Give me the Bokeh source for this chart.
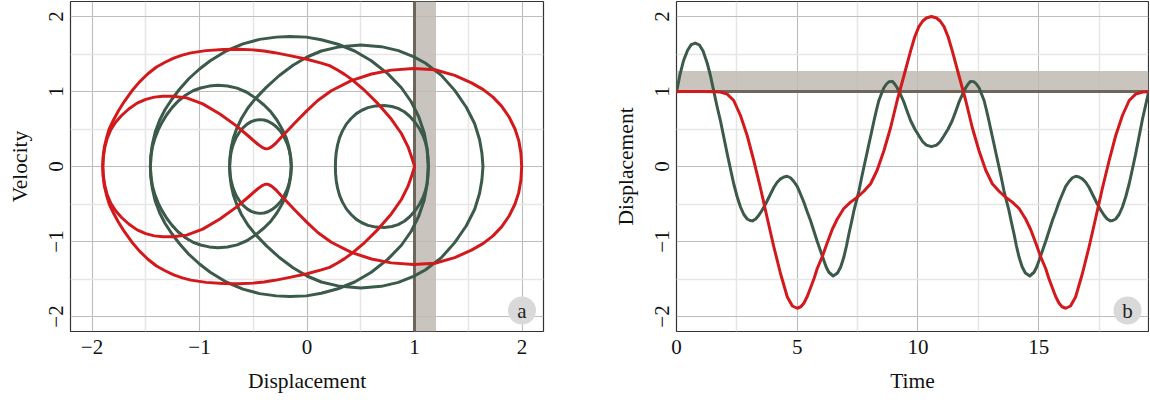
from bokeh.plotting import figure
from bokeh.layouts import row
from bokeh.models import Range1d, FixedTicker, BoxAnnotation, Span
from bokeh.core.properties import value
from bokeh.embed import file_html
from bokeh.resources import INLINE

# ---------------- data ----------------
phase_ticks = [-2, -1, 0, 1, 2]
phase_tick_labels = ["\u22122", "\u22121", "0", "1", "2"]
phase_minor = [-1.5, -0.5, 0.5, 1.5]
time_ticks = [0, 5, 10, 15]
time_tick_labels = ["0", "5", "10", "15"]
time_minor = [2.5, 7.5, 12.5, 17.5]
panel_labels = ["a", "b"]
marker_value = 1.0
band_x = [1.0, 1.2]
band_y = [1.0, 1.275]

# red phase curve: outer loop
red_outer_lo_x = [1.000, 0.995, 0.977, 0.940, 0.878, 0.784, 0.660, 0.536, 0.412, 0.350, 0.288, 0.210, 0.133, 0.000,
                  -0.160, -0.300, -0.400, -0.500, -0.630, -0.780, -0.940, -1.080, -1.160, -1.240, -1.320,
                  -1.400, -1.480, -1.560, -1.630, -1.700, -1.755, -1.800, -1.840, -1.865, -1.885, -1.896, -1.900]
red_outer_lo_y = [0.000, -0.030, -0.110, -0.262, -0.440, -0.633, -0.838, -1.014, -1.165, -1.228, -1.283, -1.345,
                  -1.379, -1.430, -1.478, -1.518, -1.540, -1.555, -1.563, -1.560, -1.545, -1.515, -1.485, -1.445,
                  -1.390, -1.327, -1.237, -1.125, -1.006, -0.866, -0.739, -0.620, -0.500, -0.380, -0.260, -0.130,
                  0.000]
red_outer_up_x = [-1.900, -1.896, -1.885, -1.865, -1.840, -1.800, -1.755, -1.700, -1.630, -1.560, -1.480, -1.400,
                  -1.320, -1.240, -1.160, -1.080, -0.940, -0.780, -0.630, -0.500, -0.400, -0.300, -0.160, 0.000,
                  0.133, 0.210, 0.288, 0.350, 0.412, 0.536, 0.660, 0.784, 0.878, 0.940, 0.977, 0.995, 1.000]
red_outer_up_y = [0.000, 0.130, 0.260, 0.380, 0.500, 0.620, 0.739, 0.866, 1.006, 1.125, 1.237, 1.327,
                  1.390, 1.445, 1.485, 1.515, 1.545, 1.560, 1.563, 1.555, 1.540, 1.518, 1.478, 1.430,
                  1.379, 1.345, 1.283, 1.228, 1.165, 1.014, 0.838, 0.633, 0.440, 0.262, 0.110, 0.030, 0.000]

# red phase curve: inner loop, neck and right loop
red_inner_up_x = [-1.900, -1.895, -1.882, -1.860, -1.825, -1.780, -1.725, -1.655, -1.580, -1.500, -1.420, -1.340,
                  -1.250, -1.120, -0.970, -0.810, -0.660, -0.540, -0.460, -0.420, -0.395, -0.375, -0.355, -0.330,
                  -0.290, -0.220, -0.100, 0.000, 0.100, 0.226, 0.412, 0.600, 0.784, 0.990, 1.190, 1.374, 1.530,
                  1.640, 1.730, 1.810, 1.880, 1.935, 1.970, 1.990, 1.997]
red_inner_up_y = [0.000, 0.120, 0.250, 0.370, 0.490, 0.590, 0.680, 0.770, 0.845, 0.895, 0.925, 0.937,
                  0.937, 0.915, 0.835, 0.700, 0.545, 0.400, 0.300, 0.258, 0.240, 0.235, 0.242, 0.262,
                  0.310, 0.420, 0.600, 0.745, 0.880, 1.010, 1.145, 1.233, 1.285, 1.308, 1.290, 1.215, 1.115,
                  1.025, 0.925, 0.805, 0.660, 0.500, 0.345, 0.180, 0.000]
red_inner_lo_x = [1.997, 1.990, 1.970, 1.935, 1.880, 1.810, 1.730, 1.640, 1.530, 1.374, 1.190, 0.990, 0.784,
                  0.600, 0.412, 0.226, 0.100, 0.000, -0.100, -0.220, -0.290, -0.330, -0.355, -0.375, -0.395,
                  -0.420, -0.460, -0.540, -0.660, -0.810, -0.970, -1.120, -1.250, -1.340, -1.420, -1.500,
                  -1.580, -1.655, -1.725, -1.780, -1.825, -1.860, -1.882, -1.895, -1.900]
red_inner_lo_y = [0.000, -0.180, -0.345, -0.500, -0.660, -0.805, -0.925, -1.025, -1.115, -1.215, -1.290, -1.308,
                  -1.285, -1.233, -1.145, -1.010, -0.880, -0.745, -0.600, -0.420, -0.310, -0.262, -0.242,
                  -0.235, -0.240, -0.258, -0.300, -0.400, -0.545, -0.700, -0.835, -0.915, -0.937, -0.937,
                  -0.925, -0.895, -0.845, -0.770, -0.680, -0.590, -0.490, -0.370, -0.250, -0.120, 0.000]

# green phase loops (upper half left->right, lower half right->left)
gA_up_x = [-1.457, -1.452, -1.438, -1.412, -1.370, -1.320, -1.260, -1.186, -1.100, -1.000, -0.900, -0.752, -0.596,
           -0.441, -0.286, -0.161, -0.006, 0.133, 0.288, 0.443, 0.598, 0.753, 0.878, 0.971, 1.040, 1.090, 1.117, 1.128]
gA_up_y = [0.000, 0.150, 0.300, 0.460, 0.620, 0.760, 0.890, 1.030, 1.170, 1.300, 1.410, 1.540, 1.635,
           1.695, 1.725, 1.734, 1.725, 1.690, 1.630, 1.540, 1.410, 1.235, 1.050, 0.860, 0.660, 0.450, 0.240, 0.000]
gA_lo_x = [1.128, 1.117, 1.090, 1.040, 0.971, 0.878, 0.753, 0.598, 0.443, 0.288, 0.133, -0.006, -0.161, -0.286,
           -0.441, -0.596, -0.752, -0.900, -1.000, -1.100, -1.186, -1.260, -1.320, -1.370, -1.412, -1.438, -1.452, -1.457]
gA_lo_y = [0.000, -0.240, -0.450, -0.660, -0.860, -1.050, -1.235, -1.410, -1.540, -1.630, -1.690, -1.725, -1.734,
           -1.725, -1.695, -1.635, -1.540, -1.410, -1.300, -1.170, -1.030, -0.890, -0.760, -0.620, -0.460, -0.300,
           -0.150, 0.000]

gB_up_x = [-0.720, -0.715, -0.704, -0.685, -0.655, -0.610, -0.550, -0.480, -0.379, -0.260, -0.130, 0.000, 0.133,
           0.288, 0.500, 0.691, 0.850, 0.990, 1.100, 1.250, 1.374, 1.482, 1.560, 1.605, 1.627, 1.637]
gB_up_y = [0.000, 0.140, 0.260, 0.380, 0.500, 0.640, 0.780, 0.905, 1.055, 1.210, 1.350, 1.460, 1.540,
           1.592, 1.620, 1.598, 1.545, 1.465, 1.380, 1.215, 1.015, 0.790, 0.570, 0.360, 0.180, 0.000]
gB_lo_x = [1.637, 1.627, 1.605, 1.560, 1.482, 1.374, 1.250, 1.100, 0.990, 0.850, 0.691, 0.500, 0.288, 0.133,
           0.000, -0.130, -0.260, -0.379, -0.480, -0.550, -0.610, -0.655, -0.685, -0.704, -0.715, -0.720]
gB_lo_y = [0.000, -0.180, -0.360, -0.570, -0.790, -1.015, -1.215, -1.380, -1.465, -1.545, -1.598, -1.620, -1.592,
           -1.540, -1.460, -1.350, -1.210, -1.055, -0.905, -0.780, -0.640, -0.500, -0.380, -0.260, -0.140, 0.000]

gC_up_x = [-1.457, -1.452, -1.438, -1.415, -1.385, -1.350, -1.305, -1.255, -1.200, -1.130, -1.060, -0.990, -0.910,
           -0.829, -0.740, -0.650, -0.560, -0.472, -0.400, -0.340, -0.280, -0.230, -0.193, -0.168, -0.152, -0.146]
gC_up_y = [0.000, 0.130, 0.260, 0.375, 0.485, 0.585, 0.690, 0.785, 0.870, 0.950, 1.010, 1.047, 1.072,
           1.082, 1.074, 1.045, 0.990, 0.905, 0.820, 0.735, 0.620, 0.495, 0.380, 0.260, 0.130, 0.000]
gC_lo_x = [-0.146, -0.152, -0.168, -0.193, -0.230, -0.280, -0.340, -0.400, -0.472, -0.560, -0.650, -0.740, -0.829,
           -0.910, -0.990, -1.060, -1.130, -1.200, -1.255, -1.305, -1.350, -1.385, -1.415, -1.438, -1.452, -1.457]
gC_lo_y = [0.000, -0.130, -0.260, -0.380, -0.495, -0.620, -0.735, -0.820, -0.905, -0.990, -1.045, -1.074, -1.082,
           -1.072, -1.047, -1.010, -0.950, -0.870, -0.785, -0.690, -0.585, -0.485, -0.375, -0.260, -0.130, 0.000]

gD_up_x = [-0.720, -0.716, -0.705, -0.686, -0.660, -0.630, -0.596, -0.557, -0.519, -0.480, -0.441, -0.400, -0.363,
           -0.323, -0.286, -0.247, -0.212, -0.183, -0.163, -0.151, -0.146]
gD_up_y = [0.000, 0.100, 0.200, 0.295, 0.385, 0.455, 0.515, 0.565, 0.598, 0.617, 0.625, 0.620, 0.603,
           0.572, 0.530, 0.470, 0.390, 0.300, 0.205, 0.105, 0.000]
gD_lo_x = [-0.146, -0.151, -0.163, -0.183, -0.212, -0.247, -0.286, -0.323, -0.363, -0.400, -0.441, -0.480, -0.519,
           -0.557, -0.596, -0.630, -0.660, -0.686, -0.705, -0.716, -0.720]
gD_lo_y = [0.000, -0.105, -0.205, -0.300, -0.390, -0.470, -0.530, -0.572, -0.603, -0.620, -0.625, -0.617, -0.598,
           -0.565, -0.515, -0.455, -0.385, -0.295, -0.200, -0.100, 0.000]

gE_up_x = [0.264, 0.266, 0.272, 0.284, 0.303, 0.330, 0.366, 0.410, 0.459, 0.510, 0.567, 0.640, 0.720, 0.790,
           0.847, 0.905, 0.955, 1.005, 1.048, 1.080, 1.102, 1.118, 1.126, 1.129]
gE_up_y = [0.000, 0.095, 0.190, 0.285, 0.385, 0.475, 0.565, 0.640, 0.705, 0.750, 0.785, 0.808, 0.812, 0.800,
           0.775, 0.730, 0.670, 0.590, 0.500, 0.410, 0.320, 0.220, 0.120, 0.000]
gE_lo_x = [1.129, 1.126, 1.118, 1.102, 1.080, 1.048, 1.005, 0.955, 0.905, 0.847, 0.790, 0.720, 0.640, 0.567,
           0.510, 0.459, 0.410, 0.366, 0.330, 0.303, 0.284, 0.272, 0.266, 0.264]
gE_lo_y = [0.000, -0.120, -0.220, -0.320, -0.410, -0.500, -0.590, -0.670, -0.730, -0.775, -0.800, -0.812, -0.808,
           -0.785, -0.750, -0.705, -0.640, -0.565, -0.475, -0.385, -0.285, -0.190, -0.095, 0.000]

# time series
red_t = [0.00, 0.40, 0.78, 1.20, 1.56, 1.82, 2.10, 2.37, 2.65, 2.93, 3.20, 3.48, 3.76, 4.03, 4.31, 4.59, 4.80,
         5.00, 5.15, 5.28, 5.42, 5.55, 5.70, 5.83, 6.04, 6.24, 6.45, 6.66, 6.93, 7.21, 7.49, 7.76, 8.04, 8.31,
         8.59, 8.87, 9.14, 9.42, 9.70, 9.87, 10.04, 10.20, 10.35, 10.56, 10.77, 10.92, 11.08, 11.25, 11.42,
         11.70, 11.98, 12.25, 12.53, 12.81, 13.08, 13.36, 13.63, 13.91, 14.19, 14.46, 14.67, 14.88, 15.08,
         15.29, 15.42, 15.57, 15.70, 15.84, 15.97, 16.12, 16.32, 16.53, 16.81, 17.09, 17.36, 17.64, 17.92,
         18.19, 18.47, 18.75, 19.02, 19.30, 19.55]
red_x = [1.000, 1.000, 1.000, 1.000, 0.998, 0.993, 0.965, 0.880, 0.680, 0.410, 0.080, -0.290, -0.690, -1.070,
         -1.430, -1.740, -1.860, -1.890, -1.870, -1.820, -1.730, -1.620, -1.490, -1.360, -1.200, -1.020, -0.840,
         -0.700, -0.560, -0.475, -0.410, -0.330, -0.230, -0.050, 0.210, 0.520, 0.880, 1.210, 1.545, 1.730,
         1.865, 1.940, 1.980, 2.000, 1.980, 1.940, 1.865, 1.730, 1.545, 1.210, 0.880, 0.520, 0.210, -0.050,
         -0.230, -0.330, -0.410, -0.475, -0.560, -0.700, -0.840, -1.020, -1.200, -1.360, -1.490, -1.620,
         -1.730, -1.820, -1.870, -1.890, -1.860, -1.740, -1.430, -1.070, -0.690, -0.290, 0.080, 0.410, 0.680,
         0.880, 0.965, 0.993, 0.998]

green_t = [0.00, 0.14, 0.29, 0.46, 0.61, 0.78, 0.95, 1.10, 1.27, 1.40, 1.54, 1.68, 1.82, 1.96, 2.10, 2.24, 2.37,
           2.51, 2.65, 2.79, 2.93, 3.05, 3.15, 3.28, 3.41, 3.55, 3.69, 3.86, 4.03, 4.17, 4.31, 4.45, 4.58, 4.72,
           4.86, 5.00, 5.14, 5.28, 5.41, 5.55, 5.69, 5.83, 5.97, 6.10, 6.20, 6.31, 6.49, 6.67, 6.80, 6.93, 7.04,
           7.14, 7.25, 7.35, 7.46, 7.56, 7.66, 7.76, 7.87, 7.97, 8.08, 8.18, 8.28, 8.38, 8.49, 8.59, 8.70, 8.80,
           8.94, 9.04, 9.14, 9.28, 9.42, 9.56, 9.70, 9.87, 10.04, 10.20, 10.35, 10.56, 10.77, 10.92, 11.08,
           11.25, 11.42, 11.56, 11.70, 11.84, 11.98, 12.08, 12.18, 12.32, 12.42, 12.53, 12.63, 12.74, 12.84,
           12.94, 13.04, 13.15, 13.25, 13.36, 13.46, 13.56, 13.66, 13.77, 13.87, 13.98, 14.08, 14.19, 14.32,
           14.45, 14.63, 14.81, 14.92, 15.02, 15.15, 15.29, 15.43, 15.57, 15.71, 15.84, 15.98, 16.12, 16.26,
           16.40, 16.54, 16.67, 16.81, 16.95, 17.09, 17.26, 17.43, 17.57, 17.71, 17.84, 17.97, 18.07, 18.19,
           18.33, 18.47, 18.61, 18.75, 18.88, 19.02, 19.16, 19.30, 19.44, 19.55]
green_x = [0.990, 1.220, 1.410, 1.550, 1.625, 1.645, 1.620, 1.540, 1.380, 1.220, 1.010, 0.800, 0.610, 0.390, 0.170,
           -0.040, -0.230, -0.400, -0.540, -0.640, -0.700, -0.720, -0.725, -0.700, -0.650, -0.580, -0.500, -0.390,
           -0.280, -0.210, -0.165, -0.140, -0.130, -0.150, -0.200, -0.265, -0.370, -0.480, -0.600, -0.720,
           -0.860, -1.000, -1.130, -1.250, -1.340, -1.410, -1.460, -1.420, -1.340, -1.210, -1.060, -0.900,
           -0.740, -0.586, -0.450, -0.320, -0.160, -0.010, 0.150, 0.300, 0.460, 0.610, 0.750, 0.880, 0.970,
           1.050, 1.100, 1.130, 1.135, 1.100, 1.050, 0.960, 0.857, 0.730, 0.610, 0.500, 0.410, 0.330, 0.285,
           0.265, 0.285, 0.330, 0.410, 0.500, 0.610, 0.730, 0.857, 0.960, 1.050, 1.100, 1.135, 1.130, 1.100,
           1.050, 0.970, 0.880, 0.750, 0.610, 0.460, 0.300, 0.150, -0.010, -0.160, -0.320, -0.450, -0.586,
           -0.740, -0.900, -1.060, -1.210, -1.340, -1.420, -1.460, -1.410, -1.340, -1.250, -1.130, -1.000,
           -0.860, -0.720, -0.600, -0.480, -0.370, -0.265, -0.200, -0.150, -0.130, -0.140, -0.165, -0.210,
           -0.280, -0.390, -0.500, -0.580, -0.650, -0.700, -0.725, -0.720, -0.700, -0.640, -0.540, -0.400,
           -0.230, -0.040, 0.170, 0.400, 0.630, 0.830, 0.990]

# ---------------- style ----------------
FONT = "Liberation Serif"
RED = "#d3191c"
GREEN = "#3b5a4a"
BAND = "#bfbab2"
MARK = "#6e655b"


def make_fig(width, min_left, min_right, xr, xticks, xminor, xlabels, xtitle, ytitle):
    p = figure(width=width, height=397, x_range=Range1d(*xr), y_range=Range1d(-2.2, 2.2),
               toolbar_location=None, output_backend="svg",
               min_border_left=min_left, min_border_right=min_right,
               min_border_top=1, min_border_bottom=66)
    p.outline_line_color = "#333333"
    p.outline_line_width = 1.2
    p.background_fill_color = "white"
    p.border_fill_color = "white"
    p.xaxis.ticker = FixedTicker(ticks=xticks, minor_ticks=xminor)
    p.yaxis.ticker = FixedTicker(ticks=phase_ticks, minor_ticks=phase_minor)
    p.xaxis.major_label_overrides = {t: l for t, l in zip(xticks, xlabels)}
    p.yaxis.major_label_overrides = {t: l for t, l in zip(phase_ticks, phase_tick_labels)}
    p.xaxis.axis_label = xtitle
    p.yaxis.axis_label = ytitle
    for ax in (p.xaxis[0], p.yaxis[0]):
        ax.axis_line_color = None
        ax.major_tick_line_color = None
        ax.minor_tick_line_color = None
        ax.major_tick_out = 0
        ax.major_tick_in = 0
        ax.minor_tick_out = 0
        ax.minor_tick_in = 0
        ax.major_label_text_font = FONT
        ax.major_label_text_font_size = "21px"
        ax.major_label_text_color = "#111111"
        ax.axis_label_text_font = FONT
        ax.axis_label_text_font_size = "21.5px"
        ax.axis_label_text_font_style = "normal"
        ax.axis_label_text_color = "#111111"
    p.xaxis.major_label_standoff = 8
    p.xaxis.axis_label_standoff = 12
    p.yaxis.major_label_standoff = 8
    p.yaxis.axis_label_standoff = 14
    p.yaxis.major_label_orientation = "vertical"
    p.grid.grid_line_color = "#bdbdbd"
    p.grid.grid_line_width = 1.1
    p.grid.minor_grid_line_color = "#e6e6e6"
    p.grid.minor_grid_line_width = 1.6
    return p


p1 = make_fig(607, 70, 64, (-2.2, 2.2), phase_ticks, phase_minor, phase_tick_labels,
              "Displacement", "Velocity")
p1.add_layout(BoxAnnotation(left=band_x[0], right=band_x[1], fill_color=BAND, fill_alpha=0.85,
                            line_color=None, level="underlay"))
p1.add_layout(Span(location=marker_value, dimension="height", line_color=MARK, line_width=3,
                   level="underlay"))

green_loops = [(gA_up_x + gA_lo_x, gA_up_y + gA_lo_y),
               (gB_up_x + gB_lo_x, gB_up_y + gB_lo_y),
               (gC_up_x + gC_lo_x, gC_up_y + gC_lo_y),
               (gD_up_x + gD_lo_x, gD_up_y + gD_lo_y),
               (gE_up_x + gE_lo_x, gE_up_y + gE_lo_y)]
for xs, ys in green_loops:
    p1.line(xs, ys, line_color=GREEN, line_width=3, line_join="round", line_cap="round")

p1.line(red_outer_lo_x + red_outer_up_x, red_outer_lo_y + red_outer_up_y,
        line_color=RED, line_width=3, line_join="round", line_cap="round")
p1.line(red_inner_up_x + red_inner_lo_x, red_inner_up_y + red_inner_lo_y,
        line_color=RED, line_width=3, line_join="round", line_cap="round")

p1.scatter(x=[2.0], y=[-1.92], size=28, marker="circle", fill_color="#d9d9d9", line_color=None)
p1.text(x=[2.0], y=[-1.92], text=[panel_labels[0]], text_align="center", text_baseline="middle",
        text_font=value(FONT), text_font_size="21px", text_color="#222222")

p2 = make_fig(542, 69, 1, (0, 19.55), time_ticks, time_minor, time_tick_labels,
              "Time", "Displacement")
p2.add_layout(BoxAnnotation(bottom=band_y[0], top=band_y[1], fill_color=BAND, fill_alpha=0.85,
                            line_color=None, level="underlay"))
p2.add_layout(Span(location=marker_value, dimension="width", line_color=MARK, line_width=3,
                   level="underlay"))
p2.line(green_t, green_x, line_color=GREEN, line_width=3, line_join="round", line_cap="round")
p2.line(red_t, red_x, line_color=RED, line_width=3, line_join="round", line_cap="round")
p2.scatter(x=[18.68], y=[-1.92], size=28, marker="circle", fill_color="#d9d9d9", line_color=None)
p2.text(x=[18.68], y=[-1.92], text=[panel_labels[1]], text_align="center", text_baseline="middle",
        text_font=value(FONT), text_font_size="21px", text_color="#222222")

layout = row(p1, p2)
open("out.html", "w").write(file_html(layout, INLINE))
